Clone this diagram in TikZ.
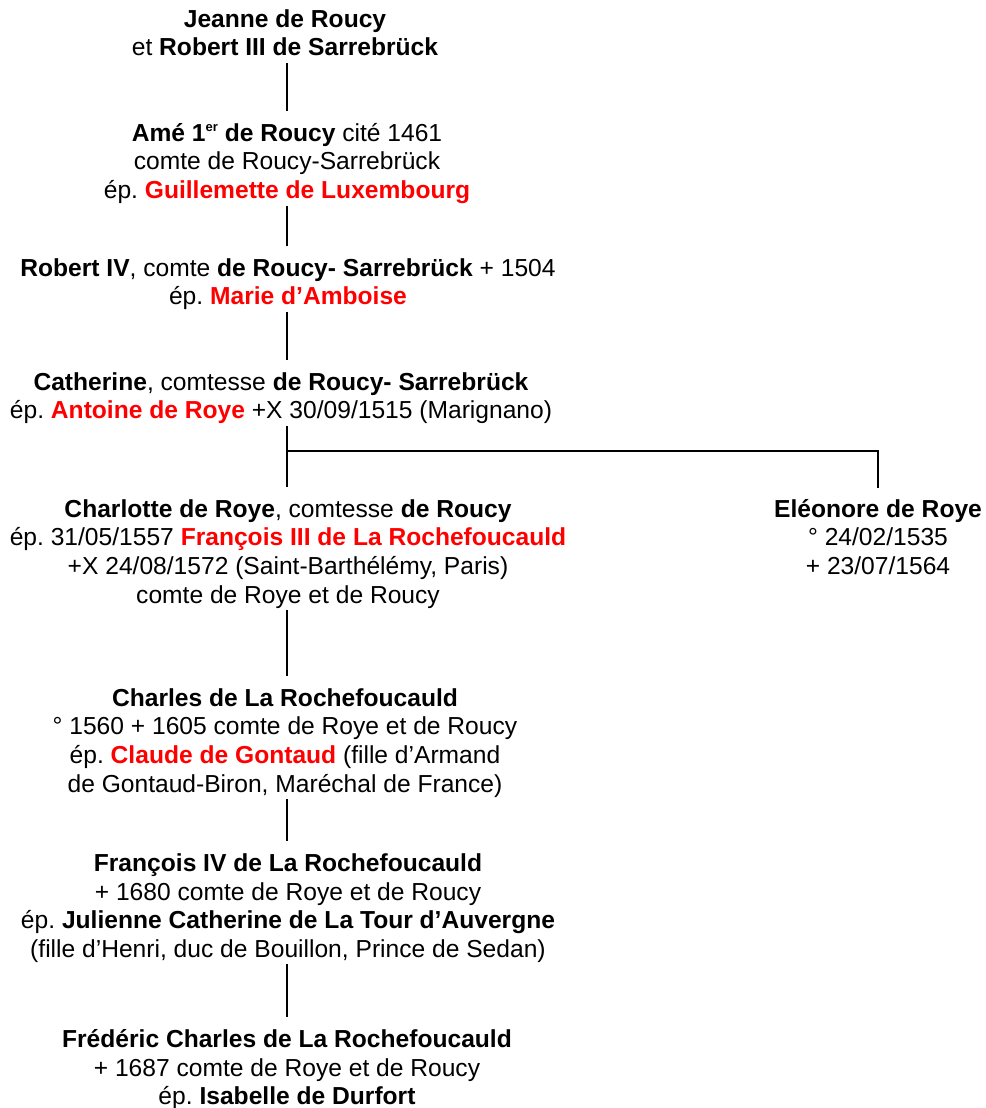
\documentclass[tikz,border=0pt]{standalone}
\usepackage{fontspec}
\setmainfont{Liberation Sans}
\frenchspacing
\newcommand\rd[1]{\textcolor{red}{\textbf{#1}}}
\newcommand\sx{\strut}
\newcommand\supr[1]{\raisebox{0.75ex}{\fontsize{13}{13}\selectfont #1}}
\tikzset{
  person/.style={anchor=north, align=center, inner sep=0pt, font=\fontsize{24.6}{28.7}\selectfont},
  conn/.style={line width=2pt, shorten <=-2pt, shorten >=10pt},
}
\begin{document}
\begin{tikzpicture}[x=1pt,y=-1pt]
\useasboundingbox (0,0) rectangle (985,1108);
\node[person] (n1) at (285,7) {\sx\textbf{Jeanne de Roucy}\\ \sx et \textbf{Robert III de Sarrebrück}};
\node[person] (n2) at (287,121) {\sx\textbf{Amé 1\supr{er} de Roucy} cité 1461\\ \sx comte de Roucy-Sarrebrück\\ \sx ép. \rd{Guillemette de Luxembourg}};
\node[person] (n3) at (288,256) {\sx\textbf{Robert IV}, comte \textbf{de Roucy- Sarrebrück} + 1504\\ \sx ép. \rd{Marie d’Amboise}};
\node[person] (n4) at (281,370) {\sx\textbf{Catherine}, comtesse \textbf{de Roucy- Sarrebrück}\\ \sx ép. \rd{Antoine de Roye} +X 30/09/1515 (Marignano)};
\node[person] (n5) at (288,497) {\sx\textbf{Charlotte de Roye}, comtesse \textbf{de Roucy}\\ \sx ép. 31/05/1557 \rd{François III de La Rochefoucauld}\\ \sx +X 24/08/1572 (Saint-Barthélémy, Paris)\\ \sx comte de Roye et de Roucy};
\node[person] (eleo) at (878,497) {\sx\textbf{Eléonore de Roye}\\ \sx ° 24/02/1535\\ \sx + 23/07/1564};
\node[person] (n6) at (285,686) {\sx\textbf{Charles de La Rochefoucauld}\\ \sx ° 1560 + 1605 comte de Roye et de Roucy\\ \sx ép. \rd{Claude de Gontaud} (fille d’Armand\\ \sx de Gontaud-Biron, Maréchal de France)};
\node[person] (n7) at (288,851) {\sx\textbf{François IV de La Rochefoucauld}\\ \sx + 1680 comte de Roye et de Roucy\\ \sx ép. \textbf{Julienne Catherine de La Tour d’Auvergne}\\ \sx (fille d’Henri, duc de Bouillon, Prince de Sedan)};
\node[person] (n8) at (287,1027) {\sx\textbf{Frédéric Charles de La Rochefoucauld}\\ \sx + 1687 comte de Roye et de Roucy\\ \sx ép. \textbf{Isabelle de Durfort}};
\coordinate (j) at (287,451);
\draw[conn] (n2.north |- n1.south) -- (n2.north);
\draw[conn] (n2.south) -- (n2.south |- n3.north);
\draw[conn] (n2.south |- n3.south) -- (n2.south |- n4.north);
\draw[conn] (j |- n4.south) -- (j |- n5.north);
\draw[line width=2pt, shorten >=9pt] (j) -| (eleo.north);
\draw[conn] (j |- n5.south) -- (j |- n6.north);
\draw[conn] (j |- n6.south) -- (j |- n7.north);
\draw[conn] (j |- n7.south) -- (j |- n8.north);
\end{tikzpicture}
\end{document}
